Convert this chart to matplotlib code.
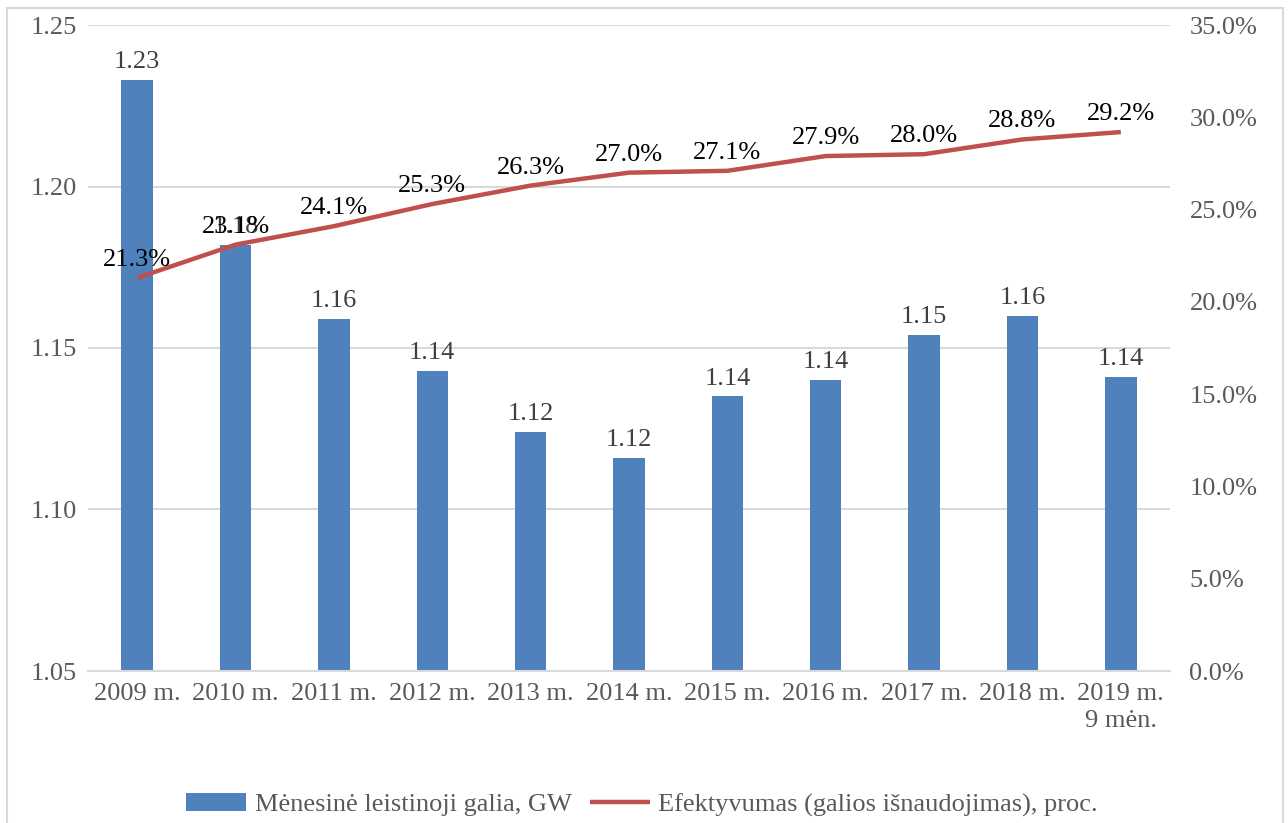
import matplotlib
matplotlib.use("Agg")
import matplotlib.pyplot as plt
from matplotlib.patches import Rectangle
from matplotlib.ticker import FuncFormatter, MultipleLocator

plt.rcParams['font.family'] = ['Liberation Serif', 'DejaVu Serif']

categories = ["2009 m.", "2010 m.", "2011 m.", "2012 m.", "2013 m.", "2014 m.",
              "2015 m.", "2016 m.", "2017 m.", "2018 m.", "2019 m.\n9 mėn."]
power_gw = [1.233, 1.182, 1.159, 1.143, 1.124, 1.116, 1.135, 1.140, 1.154, 1.160, 1.141]
efficiency = [21.3, 23.1, 24.1, 25.3, 26.3, 27.0, 27.1, 27.9, 28.0, 28.8, 29.2]
bar_name = "Mėnesinė leistinoji galia, GW"
line_name = "Efektyvumas (galios išnaudojimas), proc."

W, H = 1288, 823
fig = plt.figure(figsize=(W / 100, H / 100), dpi=100)
ax = fig.add_axes([88 / W, (H - 671) / H, (1170 - 88) / W, (671 - 25) / H])
ax2 = ax.twinx()

# outer border
fig.patches.append(Rectangle((7 / W, -0.05), (1283 - 7) / W, (H - 8) / H + 0.05,
                             transform=fig.transFigure, fill=False,
                             edgecolor='#d9d9d9', linewidth=1.5))

x = list(range(len(categories)))
bars = ax.bar(x, power_gw, width=0.32, color='#4f81bd', label=bar_name, zorder=2)
ax.set_ylim(1.05, 1.25)
ax.set_xlim(-0.5, len(categories) - 0.5)
ax.yaxis.set_major_locator(MultipleLocator(0.05))
ax.yaxis.set_major_formatter(FuncFormatter(lambda v, p: f"{v:.2f}"))
ax.grid(axis='y', color='#d9d9d9', linewidth=1.5, zorder=0)
ax.set_axisbelow(True)
ax.set_xticks(x)
ax.set_xticklabels(categories, linespacing=1.25)

for b, v in zip(bars, power_gw):
    ax.annotate(f"{v:.2f}", (b.get_x() + b.get_width() / 2, v),
                xytext=(0, 5), textcoords='offset points', ha='center', va='bottom',
                fontsize=19, color='#404040', zorder=5)

line, = ax2.plot(x, efficiency, color='#c0504d', linewidth=3.2, label=line_name,
                 solid_capstyle='butt', zorder=3)
ax2.set_ylim(0, 35)
ax2.yaxis.set_major_locator(MultipleLocator(5))
ax2.yaxis.set_major_formatter(FuncFormatter(lambda v, p: f"{v:.1f}%"))
for xi, v in zip(x, efficiency):
    ax2.annotate(f"{v:.1f}%", (xi, v), xytext=(0, 5), textcoords='offset points',
                 ha='center', va='bottom', fontsize=19, color='black', zorder=6)

for a in (ax, ax2):
    for s in a.spines.values():
        s.set_visible(False)
    a.tick_params(length=0, labelsize=19, labelcolor='#595959')
ax.spines['bottom'].set_visible(True)
ax.spines['bottom'].set_color('#d9d9d9')
ax.spines['bottom'].set_linewidth(1.5)
ax.tick_params(axis='y', pad=8)
ax.tick_params(axis='x', pad=9)
ax2.tick_params(axis='y', pad=14)

fig.legend(handles=[bars, line], labels=[bar_name, line_name], loc='center',
           bbox_to_anchor=(642 / W, (H - 805) / H), ncol=2, frameon=False,
           fontsize=19, labelcolor='#595959', handlelength=2.27, handleheight=0.65,
           columnspacing=0.68, handletextpad=0.34)

fig.savefig("out.png", dpi=100)
